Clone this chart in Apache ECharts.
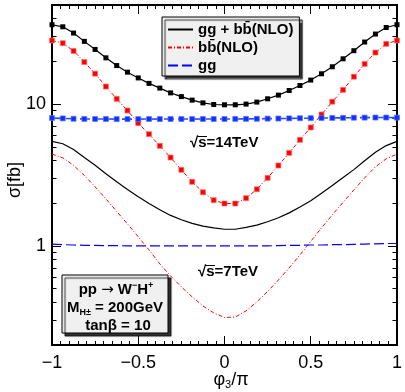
<!DOCTYPE html>
<html><head><meta charset="utf-8">
<script src="https://cdn.jsdelivr.net/npm/echarts@6/dist/echarts.min.js"></script>
<style>html,body{margin:0;padding:0;background:#fff}#c{width:405px;height:392px}</style>
</head><body><div id="c"></div>
<script>
// phi_3 / pi sample points
const phi = [-1,-0.9375,-0.875,-0.8125,-0.75,-0.6875,-0.625,-0.5625,-0.5,-0.4375,-0.375,-0.3125,-0.25,-0.1875,-0.125,-0.0625,0,0.0625,0.125,0.1875,0.25,0.3125,0.375,0.4375,0.5,0.5625,0.625,0.6875,0.75,0.8125,0.875,0.9375,1];
// sqrt(s) = 14 TeV (with markers)
const tot14 = [36.3,35.1,31.7,27.7,24.3,21.2,18.7,16.8,15.3,14.0,12.97,12.0,11.3,10.67,10.2,9.94,9.89,9.89,10.0,10.33,10.9,11.57,12.47,13.53,14.77,16.36,18.34,20.87,23.8,27.4,31.2,34.7,36.3];
const bb14 = [28.1,26.9,23.7,19.8,16.4,13.3,10.9,9.01,7.34,6.14,5.08,4.20,3.44,2.83,2.39,2.10,1.99,1.99,2.17,2.51,3.02,3.69,4.53,5.60,6.84,8.45,10.4,12.6,15.6,19.2,23.1,26.6,28.1];
const gg14 = [7.97,7.93,7.88,7.86,7.85,7.85,7.84,7.84,7.84,7.85,7.84,7.85,7.85,7.84,7.85,7.85,7.85,7.86,7.87,7.88,7.90,7.91,7.93,7.95,7.96,7.98,7.99,8.00,8.02,8.03,8.04,8.04,8.03];
// sqrt(s) = 7 TeV (lines only)
const tot7 = [5.46,5.25,4.78,4.20,3.70,3.23,2.83,2.50,2.22,1.99,1.80,1.64,1.53,1.44,1.38,1.34,1.31,1.31,1.35,1.40,1.48,1.58,1.71,1.88,2.08,2.35,2.67,3.04,3.45,3.98,4.58,5.10,5.46];
const bb7 = [4.44,4.18,3.70,3.14,2.61,2.15,1.75,1.43,1.16,0.937,0.746,0.614,0.514,0.437,0.377,0.337,0.313,0.315,0.348,0.403,0.477,0.575,0.70,0.864,1.076,1.34,1.655,2.03,2.48,3.02,3.61,4.11,4.44];
const gg7 = [1.03,1.02,1.015,1.01,1.01,1.005,1.005,1.0,1.0,1.0,1.0,1.0,1.0,1.0,1.0,1.0,1.0,1.0,1.0,1.0,1.0,1.005,1.01,1.01,1.015,1.015,1.02,1.02,1.025,1.03,1.035,1.04,1.04];
// axis ticks
const yMajor = [1,10];
const yMinor = [0.2,0.3,0.4,0.5,0.6,0.7,0.8,0.9,2,3,4,5,6,7,8,9,20,30,40,50];
const legendNames = ['gg + b' + 'b\u0304' + '(NLO)', 'b' + 'b\u0304' + '(NLO)', 'gg'];

const FONT = '"Liberation Sans", Arial, Helvetica, sans-serif';
const Y_MIN = 0.2, Y_MAX = 50;
const pairs = a => phi.map((x, i) => [x, a[i]]);
const chart = echarts.init(document.getElementById('c'));

const xAx = (pos, labels) => ({
  type: 'value', min: -1, max: 1, interval: 0.5, position: pos,
  axisLine: {show: false, onZero: false}, splitLine: {show: false},
  axisTick: {show: true, inside: true, length: 9, lineStyle: {color: '#000', width: 1}},
  minorTick: {show: true, splitNumber: 10, length: 4, lineStyle: {color: '#000', width: 1}},
  axisLabel: labels ? {show: true, margin: 9, fontSize: 18, color: '#000', fontFamily: FONT,
    formatter: v => v < 0 ? '\u2212' + (-v) : String(v)} : {show: false}
});
// tick-only axes: linear axes over log10 of the value range, so ticks land at the log positions
const tickAx = (pos, vals, len) => ({
  type: 'value', min: Math.log10(Y_MIN), max: Math.log10(Y_MAX), position: pos,
  axisLine: {show: false, onZero: false}, splitLine: {show: false}, minorTick: {show: false},
  axisTick: {show: true, inside: true, length: len, customValues: vals.map(v => Math.log10(v)),
    lineStyle: {color: '#000', width: 1}},
  axisLabel: {show: false}
});

const red = '#ff0000', blue = '#0000ff';
chart.setOption({
  animation: false,
  grid: {left: 52, right: 3, top: 5, bottom: 47, show: true, borderColor: '#000', borderWidth: 2},
  xAxis: [xAx('bottom', true), xAx('top', false)],
  yAxis: [
    {type: 'log', logBase: 10, min: Y_MIN, max: Y_MAX, position: 'left',
      axisLine: {show: false, onZero: false}, splitLine: {show: false}, axisTick: {show: false}, minorTick: {show: false},
      axisLabel: {show: true, customValues: yMajor, margin: 6, fontSize: 18, color: '#000', fontFamily: FONT,
        formatter: v => String(Math.round(v))}},
    tickAx('left', yMajor, 9), tickAx('left', yMinor, 4.5),
    tickAx('right', yMajor, 9), tickAx('right', yMinor, 4.5)
  ],
  legend: {
    data: legendNames, orient: 'vertical', left: 162, top: 17, itemWidth: 25, itemHeight: 14, itemGap: 3,
    padding: [5, 6, 3, 5], backgroundColor: '#f0f0f0', borderColor: '#000', borderWidth: 1,
    shadowColor: 'rgba(0,0,0,0.8)', shadowBlur: 1, shadowOffsetX: 3, shadowOffsetY: 3,
    selectedMode: false, itemStyle: {opacity: 0},
    textStyle: {fontFamily: FONT, fontSize: 15, fontWeight: 'bold', color: '#000'}
  },
  series: [
    {name: legendNames[0], type: 'line', data: pairs(tot7), symbol: 'none', color: '#000',
      lineStyle: {color: '#000', width: 1.2}},
    {name: legendNames[1], type: 'line', data: pairs(bb7), symbol: 'none', color: red,
      lineStyle: {color: red, width: 1, type: [4, 2, 1, 2]}},
    {name: legendNames[2], type: 'line', data: pairs(gg7), symbol: 'none', color: blue,
      lineStyle: {color: blue, width: 1.2, type: [10, 4]}},
    {name: '14 TeV gg+bb', type: 'line', data: pairs(tot14), symbol: 'rect', symbolSize: 5,
      itemStyle: {color: '#000'}, lineStyle: {color: '#000', width: 1.2}},
    {name: '14 TeV bb', type: 'line', data: pairs(bb14), symbol: 'rect', symbolSize: 5,
      itemStyle: {color: red, borderColor: 'rgba(255,110,110,0.7)', borderWidth: 1},
      lineStyle: {color: red, width: 1, type: [4, 2, 1, 2]}},
    {name: '14 TeV gg', type: 'line', data: pairs(gg14), symbol: 'rect', symbolSize: 5,
      itemStyle: {color: '#1030ff', borderColor: 'rgba(90,120,255,0.7)', borderWidth: 1},
      lineStyle: {color: '#2a4cff', width: 1.6, type: [10, 4]}}
  ],
  graphic: [
    {type: 'text', x: 15, y: 180, rotation: Math.PI / 2,
      style: {text: '\u03c3[fb]', fill: '#000', font: '18px ' + FONT, textAlign: 'center', textVerticalAlign: 'middle'}},
    {type: 'text', x: 231, y: 380,
      style: {text: '{a|\u03c6}{s|3}{a|/\u03c0}', textAlign: 'center', textVerticalAlign: 'middle',
        rich: {a: {fontSize: 18, fontFamily: FONT, fill: '#000', lineHeight: 20},
               s: {fontSize: 11, fontFamily: FONT, fill: '#000', verticalAlign: 'bottom', lineHeight: 12}}}},
    {type: 'text', x: 190, y: 143,
      style: {text: '\u221as=14TeV', fill: '#000', font: 'bold 15px ' + FONT, textAlign: 'left', textVerticalAlign: 'middle'}},
    {type: 'line', shape: {x1: 197.5, y1: 136.5, x2: 207, y2: 136.5}, style: {stroke: '#000', lineWidth: 1}},
    {type: 'text', x: 198, y: 272,
      style: {text: '\u221as=7TeV', fill: '#000', font: 'bold 15px ' + FONT, textAlign: 'left', textVerticalAlign: 'middle'}},
    {type: 'line', shape: {x1: 205.5, y1: 265.5, x2: 215, y2: 265.5}, style: {stroke: '#000', lineWidth: 1}},
    {type: 'rect', shape: {x: 62, y: 275, width: 106, height: 58}, z: 10,
      style: {fill: '#f0f0f0', stroke: '#000', lineWidth: 1, shadowColor: 'rgba(0,0,0,0.8)', shadowBlur: 1, shadowOffsetX: 3, shadowOffsetY: 3}},
    {type: 'text', x: 116, y: 290, z: 11,
      style: {text: '{a|pp }{c|\u2192}{a| W}{b|\u2212}{a|H}{b|+}', textAlign: 'center', textVerticalAlign: 'middle',
        rich: {a: {fontSize: 15, fontWeight: 'bold', fontFamily: FONT, fill: '#000', lineHeight: 18},
               c: {fontSize: 15, fontFamily: '"DejaVu Sans"', fill: '#000', lineHeight: 18},
               b: {fontSize: 9, fontWeight: 'bold', fontFamily: FONT, fill: '#000', verticalAlign: 'top', lineHeight: 9}}}},
    {type: 'text', x: 115, y: 308, z: 11,
      style: {text: '{a|M}{s|H\u00b1}{a| = 200GeV}', textAlign: 'center', textVerticalAlign: 'middle',
        rich: {a: {fontSize: 15, fontWeight: 'bold', fontFamily: FONT, fill: '#000', lineHeight: 18},
               s: {fontSize: 9, fontWeight: 'bold', fontFamily: FONT, fill: '#000', verticalAlign: 'bottom', lineHeight: 9}}}},
    {type: 'text', x: 118, y: 326, z: 11,
      style: {text: 'tan\u03b2 = 10', fill: '#000', font: 'bold 15px ' + FONT, textAlign: 'center', textVerticalAlign: 'middle'}}
  ]
});
</script></body></html>
